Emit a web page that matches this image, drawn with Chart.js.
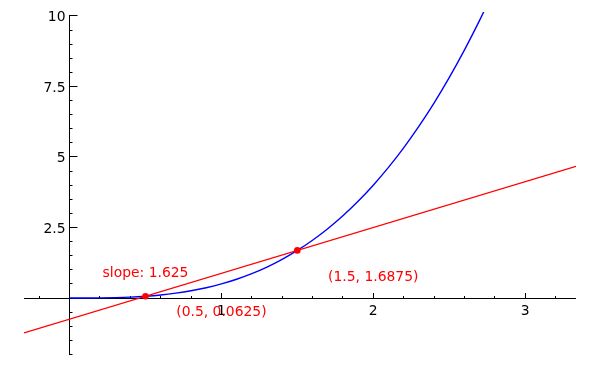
<!DOCTYPE html>
<html><head><meta charset="utf-8">
<script src="https://cdn.jsdelivr.net/npm/chart.js@4/dist/chart.umd.min.js"></script>
<style>html,body{margin:0;padding:0;background:#fff}#wrap{width:600px;height:370px}</style>
</head><body><div id="wrap"><canvas id="c" width="600" height="370"></canvas></div>
<script>
// Blue curve
const curveX = [0,0.1,0.2,0.3,0.4,0.5,0.6,0.7,0.8,0.9,1.0,1.1,1.2,1.3,1.4,1.5,1.6,1.7,1.8,1.9,2.0,2.1,2.2,2.3,2.4,2.5,2.6,2.7,2.75];
const curveY = [0,0.001,0.004,0.014,0.032,0.063,0.108,0.172,0.256,0.365,0.5,0.666,0.864,1.099,1.372,1.688,2.048,2.457,2.916,3.43,4.0,4.631,5.324,6.084,6.912,7.813,8.788,9.842,10.4];
// Red secant line
const secantX = [-0.3, 3.335];
const secantY = [-1.2375, 4.669];
// Red marked points
const pointX = [0.5, 1.5];
const pointY = [0.0625, 1.6875];
// Axis ticks
const xTickValues = [1, 2, 3];
const xTickLabels = ['1', '2', '3'];
const xMinorTicks = [-0.2,0.2,0.4,0.6,0.8,1.2,1.4,1.6,1.8,2.2,2.4,2.6,2.8,3.2];
const yTickValues = [2.5, 5, 7.5, 10];
const yTickLabels = ['2.5', '5', '7.5', '10'];
const yMinorTicks = [-2,-1.5,-1,-0.5,0.5,1,1.5,2,3,3.5,4,4.5,5.5,6,6.5,7,8,8.5,9,9.5];
// Annotations
const noteTexts = ['slope: 1.625', '(0.5, 0.0625)', '(1.5, 1.6875)'];
const noteX = [0.5, 1.0, 2.0];
const noteY = [0.745, -0.628, 0.613];

const FONT = '13.9px "DejaVu Sans"';

const axesPlugin = {
  id: 'axesPlugin',
  beforeDatasetsDraw(chart) {
    const { ctx, scales: { x, y }, chartArea } = chart;
    const px = v => Math.floor(x.getPixelForValue(v)) + 0.5;
    const py = v => Math.floor(y.getPixelForValue(v)) + 0.5;
    const x0 = px(0), y0 = py(0);
    ctx.save();
    ctx.strokeStyle = '#000';
    ctx.lineWidth = 1;
    ctx.beginPath();
    ctx.moveTo(chartArea.left, y0); ctx.lineTo(chartArea.right, y0);
    ctx.moveTo(x0, chartArea.bottom); ctx.lineTo(x0, py(10) - 0.5);
    xTickValues.forEach(v => { const p = px(v); ctx.moveTo(p, y0); ctx.lineTo(p, y0 - 5.5); });
    xMinorTicks.forEach(v => { const p = px(v); ctx.moveTo(p, y0); ctx.lineTo(p, y0 - 2.5); });
    yTickValues.forEach(v => { const p = py(v); ctx.moveTo(x0, p); ctx.lineTo(x0 + 8, p); });
    yMinorTicks.forEach(v => { const p = py(v); ctx.moveTo(x0, p); ctx.lineTo(x0 + 3, p); });
    ctx.stroke();
    ctx.fillStyle = '#000';
    ctx.font = FONT;
    ctx.textBaseline = 'alphabetic';
    ctx.textAlign = 'center';
    xTickValues.forEach((v, i) => ctx.fillText(xTickLabels[i], x.getPixelForValue(v), y0 + 16.3));
    ctx.textAlign = 'right';
    yTickValues.forEach((v, i) => ctx.fillText(yTickLabels[i], x0 - 4, y.getPixelForValue(v) + 5.5));
    ctx.restore();
  },
  afterDatasetsDraw(chart) {
    const { ctx, scales: { x, y } } = chart;
    ctx.save();
    ctx.fillStyle = '#ff0000';
    ctx.font = FONT;
    ctx.textAlign = 'center';
    ctx.textBaseline = 'alphabetic';
    noteTexts.forEach((t, i) => ctx.fillText(t, x.getPixelForValue(noteX[i]), y.getPixelForValue(noteY[i])));
    ctx.restore();
  }
};

new Chart(document.getElementById('c'), {
  type: 'scatter',
  data: {
    datasets: [
      {
        label: 'points',
        data: pointX.map((v, i) => ({ x: v, y: pointY[i] })),
        backgroundColor: '#ff0000', borderColor: '#ff0000',
        pointRadius: 3.3, borderWidth: 0, showLine: false, order: 0
      },
      {
        label: 'secant',
        data: secantX.map((v, i) => ({ x: v, y: secantY[i] })),
        borderColor: '#ff0000', borderWidth: 1.4, pointRadius: 0, showLine: true, order: 1
      },
      {
        label: 'curve',
        data: curveX.map((v, i) => ({ x: v, y: curveY[i] })),
        borderColor: '#0000ff', borderWidth: 1.4, pointRadius: 0, showLine: true,
        cubicInterpolationMode: 'monotone', order: 2
      }
    ]
  },
  options: {
    responsive: false,
    animation: false,
    devicePixelRatio: 1,
    layout: { padding: { left: 24, right: 24, top: 12, bottom: 15 } },
    plugins: { legend: { display: false }, tooltip: { enabled: false } },
    scales: {
      x: { type: 'linear', min: -0.3, max: 3.335, display: false },
      y: { type: 'linear', min: -2.02, max: 10.14, display: false }
    }
  },
  plugins: [axesPlugin]
});
</script>
</body></html>
